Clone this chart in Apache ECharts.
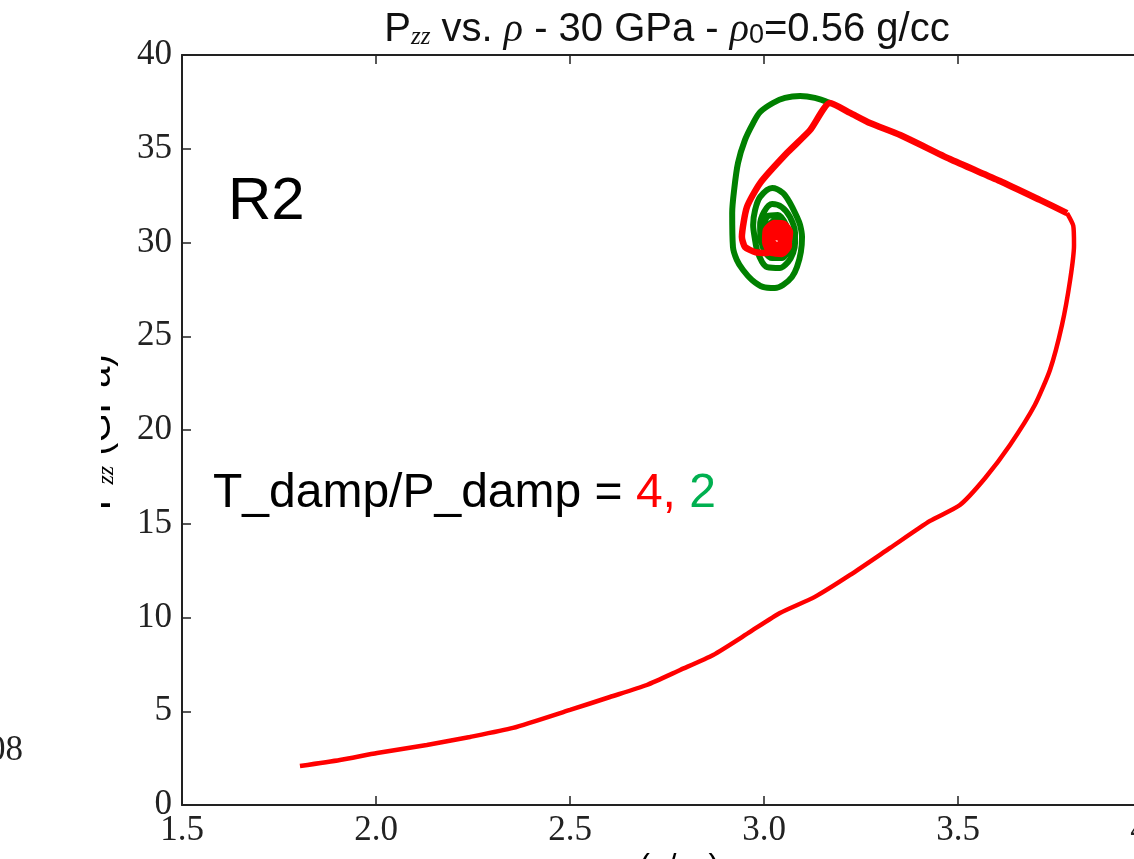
<!DOCTYPE html>
<html><head><meta charset="utf-8">
<script src="https://cdn.jsdelivr.net/npm/echarts@6/dist/echarts.min.js"></script>
<style>html,body{margin:0;padding:0;background:#fff;overflow:hidden}#c{width:1134px;height:859px}</style>
</head><body><div id="c"></div>
<script>
// Axis ticks
const xTickValues = [1.5, 2.0, 2.5, 3.0, 3.5, 4.0];
const yTickValues = [0, 5, 10, 15, 20, 25, 30, 35, 40];

// T_damp/P_damp = 4 (red): compression ramp
const redRiseRho = [1.804,1.907,2.003,2.131,2.242,2.353,2.500,2.603,2.698,2.784,2.869,2.964,3.041,3.131,3.222,3.325,3.428,3.505,3.570,3.634,3.698,3.737,3.768,3.789,3.799,3.797,3.781];
const redRisePzz = [2.08,2.40,2.77,3.20,3.63,4.11,5.07,5.76,6.40,7.20,8.00,9.23,10.24,11.1,12.27,13.71,15.15,16.0,17.44,19.2,21.33,23.2,25.6,28.0,29.87,30.9,31.57];
// T_damp/P_damp = 4 (red): hold / relaxation spiral
const redHoldRho = [3.781,3.711,3.608,3.479,3.351,3.273,3.222,3.170,
  3.119,3.059,2.990,2.956,2.943,2.951,2.977,3.008,3.036,
  3.062,3.067,3.052,3.026,3.005,3.003,3.015,3.046,3.064,3.062,3.044,3.021,3.010,3.018,3.041,3.057,3.049,3.031,3.021,3.028,3.044,3.041,3.030,3.034];
const redHoldPzz = [31.57,32.27,33.28,34.45,35.73,36.37,36.91,37.44,
  36.0,34.77,33.17,31.89,30.29,29.76,29.49,29.44,29.71,
  29.97,30.56,30.99,31.04,30.67,30.03,29.49,29.39,29.81,30.35,30.77,30.72,30.24,29.71,29.60,30.03,30.51,30.61,30.24,29.87,29.92,30.24,30.35,30.13];

// T_damp/P_damp = 2 (green)
const greenRho = [3.170,3.131,3.093,3.054,3.023,2.990,2.972,2.951,2.933,2.923,2.918,2.920,2.930,2.946,2.969,2.997,3.028,3.049,3.072,3.085,3.095,3.098,3.093,3.085,3.067,3.049,3.021,2.990,2.977,2.972,2.977,2.982,2.995,3.008,3.041,3.062,3.075,3.080,3.080,3.067,3.046,3.021,3.000,2.990,2.992,3.003,3.021,3.046,3.062,3.064,3.057,3.036,3.010,3.000,3.005,3.023,3.052,3.057,
  3.050,3.030,3.012,3.005,3.012,3.035,3.055,3.058,3.040,3.018,3.012,3.020,3.040,3.048];
const greenPzz = [37.44,37.71,37.81,37.71,37.44,36.96,36.37,35.47,34.24,32.8,31.57,29.76,29.07,28.53,28.0,27.63,27.57,27.73,28.16,28.69,29.49,30.29,30.93,31.36,32.11,32.64,32.91,32.43,31.73,30.93,30.13,29.6,28.96,28.69,28.64,28.96,29.44,29.97,30.51,31.36,31.89,32.05,31.63,30.93,30.13,29.49,29.17,29.17,29.6,30.24,30.93,31.47,31.41,30.77,29.92,29.49,29.6,30.24,
  30.9,31.2,30.9,30.2,29.6,29.4,29.8,30.5,31.0,30.8,30.2,29.7,29.7,30.2];

const toPairs = (xs, ys) => xs.map((x, i) => [x, ys[i]]);

const chart = echarts.init(document.getElementById('c'), null, {renderer: 'canvas'});
const axisCol = '#222';
const serif = '"Liberation Serif", "DejaVu Serif", serif';
const sans = '"Liberation Sans", Arial, sans-serif';

const xCommon = {
  type: 'value', min: 1.5, max: 4.0, interval: 0.5,
  axisLine: {show: true, onZero: false, lineStyle: {color: axisCol, width: 2}},
  axisTick: {show: true, inside: true, length: 9, lineStyle: {color: axisCol, width: 1.5}},
  splitLine: {show: false}
};
const yCommon = {
  type: 'value', min: 0, max: 40, interval: 5,
  axisLine: {show: true, onZero: false, lineStyle: {color: axisCol, width: 2}},
  axisTick: {show: true, inside: true, length: 9, lineStyle: {color: axisCol, width: 1.5}},
  splitLine: {show: false}
};

chart.setOption({
  animation: false,
  backgroundColor: '#fff',
  title: {
    text: 'P{sub|zz} vs. {gr|ρ} - 30 GPa - {gr|ρ}{sub0|0}=0.56 g/cc',
    left: 662, top: 5, textAlign: 'center',
    textStyle: {
      fontFamily: sans, fontSize: 40, fontWeight: 'normal', color: '#111',
      rich: {
        sub: {fontFamily: serif, fontStyle: 'italic', fontSize: 25, color: '#111', padding: [14, 0, 0, 0]},
        sub0: {fontFamily: sans, fontSize: 27, color: '#111', padding: [12, 0, 0, 0]},
        gr: {fontFamily: serif, fontStyle: 'italic', fontSize: 40, color: '#111'}
      }
    }
  },
  grid: {left: 182, right: -18, top: 55, bottom: 54, outerBoundsMode: 'none', containLabel: false},
  xAxis: [
    Object.assign({}, xCommon, {position: 'bottom',
      axisLabel: {show: true, margin: 8, color: '#222', fontFamily: serif, fontSize: 35,
        formatter: v => v.toFixed(1)}}),
    Object.assign({}, xCommon, {position: 'top', axisLabel: {show: false}})
  ],
  yAxis: [
    Object.assign({}, yCommon, {position: 'left',
      axisLabel: {show: true, margin: 10, color: '#222', fontFamily: serif, fontSize: 35}}),
    Object.assign({}, yCommon, {position: 'right', axisLabel: {show: false}})
  ],
  series: [
    {name: 'T_damp/P_damp = 2', type: 'line', xAxisIndex: 0, yAxisIndex: 0,
     data: toPairs(greenRho, greenPzz), showSymbol: false, symbol: 'none', smooth: 0.3,
     lineStyle: {color: '#008000', width: 6}, z: 2},
    {name: 'T_damp/P_damp = 4', type: 'line', xAxisIndex: 0, yAxisIndex: 0,
     data: toPairs(redRiseRho, redRisePzz), showSymbol: false, symbol: 'none', smooth: 0.2,
     lineStyle: {color: '#ff0000', width: 4.5}, z: 3},
    {name: 'T_damp/P_damp = 4', type: 'line', xAxisIndex: 0, yAxisIndex: 0,
     data: toPairs(redHoldRho, redHoldPzz), showSymbol: false, symbol: 'none', smooth: 0.2,
     lineStyle: {color: '#ff0000', width: 6.5}, z: 3}
  ],
  graphic: [
    {type: 'text', left: 228, top: 172, style: {text: 'R2', font: '60px ' + sans, fill: '#000'}},
    {type: 'text', left: 213, top: 470, style: {
      text: 'T_damp/P_damp = {r|4,} {g|2}', font: '48px ' + sans, fill: '#000',
      rich: {r: {fill: '#ff0000', font: '48px ' + sans}, g: {fill: '#00b050', font: '48px ' + sans}}}},
    // y axis label, partly hidden behind a white box as in the slide
    {type: 'text', x: 100, y: 432, rotation: Math.PI / 2, z: 10, style: {
      text: 'P{s|zz} (GPa)', font: '38px ' + sans, fill: '#000', align: 'center', verticalAlign: 'middle',
      rich: {s: {font: 'italic 24px ' + serif, fill: '#000', padding: [14, 0, 0, 0]}}}},
    {type: 'rect', shape: {x: 0, y: 320, width: 101, height: 220}, style: {fill: '#fff'}, z: 11},
    // x axis label, only the top edge visible
    {type: 'text', x: 667, y: 851, z: 10, style: {
      text: '{g|ρ} (g/cc)', font: '32px ' + sans, fill: '#000', align: 'center', verticalAlign: 'top',
      rich: {g: {font: 'italic 32px ' + serif, fill: '#000'}}}},
    {type: 'text', x: -12, y: 751, z: 10, style: {text: '08', font: '35px ' + serif, fill: '#222', verticalAlign: 'middle'}}
  ]
});
</script>
</body></html>
